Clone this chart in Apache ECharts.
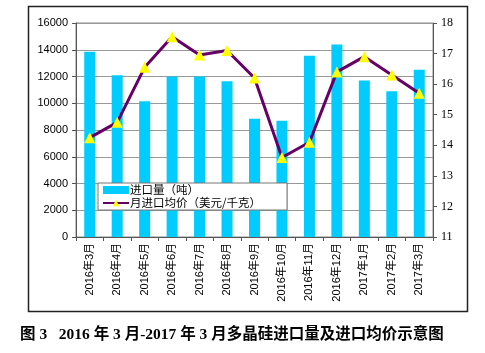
<!DOCTYPE html>
<html><head><meta charset="utf-8">
<script src="https://cdn.jsdelivr.net/npm/echarts@6/dist/echarts.min.js"></script>
<style>html,body{margin:0;padding:0;background:#fff}#c{width:485px;height:353px}</style>
</head><body><div id="c"></div>
<script>
var categories = ['2016年3月','2016年4月','2016年5月','2016年6月','2016年7月','2016年8月','2016年9月','2016年10月','2016年11月','2016年12月','2017年1月','2017年2月','2017年3月'];
var importVolume = [13850, 12100, 10150, 12000, 12000, 11650, 8850, 8700, 13550, 14400, 11700, 10900, 12500];
var avgPrice = [14.25, 14.75, 16.55, 17.55, 16.95, 17.1, 16.2, 13.6, 14.1, 16.4, 16.9, 16.3, 15.7];
var seriesNames = ['进口量（吨）', '月进口均价（美元/千克）'];
var caption = '图 3\u00a0\u00a0 2016 年 3 月-2017 年 3 月多晶硅进口量及进口均价示意图';

var chart = echarts.init(document.getElementById('c'), null, {renderer: 'canvas'});
chart.setOption({
  animation: false,
  backgroundColor: '#fff',
  grid: {left: 76, right: 52, top: 23, bottom: 116, show: true, borderColor: '#888', borderWidth: 1},
  legend: {
    orient: 'vertical', left: 98, top: 183,
    backgroundColor: '#fff', borderColor: '#777', borderWidth: 1,
    padding: [1, 26, 1, 4], itemGap: 1, itemWidth: 26, itemHeight: 8,
    textStyle: {fontSize: 11.5, color: '#000', fontFamily: 'Noto Sans CJK SC', lineHeight: 12, padding: [0,0,0,-4]},
    data: [{name: seriesNames[0], icon: 'rect'}, {name: seriesNames[1]}]
  },
  xAxis: {
    type: 'category', data: categories,
    axisLine: {lineStyle: {color: '#555'}},
    axisTick: {show: true, lineStyle: {color: '#555'}, length: 4},
    axisLabel: {rotate: 90, fontSize: 11, color: '#000', fontFamily: 'Liberation Sans, Noto Sans CJK SC', margin: 6}
  },
  yAxis: [{
    type: 'value', min: 0, max: 16000, interval: 2000,
    axisLine: {show: true, lineStyle: {color: '#555'}},
    axisTick: {show: true, length: 4, lineStyle: {color: '#555'}},
    splitLine: {lineStyle: {color: '#999'}},
    axisLabel: {fontSize: 11, color: '#000', fontFamily: 'Liberation Sans', margin: 8, formatter: function (v) { return String(v); }}
  }, {
    type: 'value', min: 11, max: 18, interval: 1, position: 'right',
    axisLine: {show: true, lineStyle: {color: '#555'}},
    axisTick: {show: true, length: 4, lineStyle: {color: '#555'}},
    splitLine: {show: false},
    axisLabel: {fontSize: 12, color: '#000', fontFamily: 'Liberation Serif', margin: 8}
  }],
  series: [{
    name: seriesNames[0], type: 'bar', data: importVolume, barWidth: 11,
    itemStyle: {color: '#00CCFF'}
  }, {
    name: seriesNames[1], type: 'line', yAxisIndex: 1, data: avgPrice,
    lineStyle: {color: '#660066', width: 3},
    itemStyle: {color: '#FFFF00'},
    symbol: 'triangle', symbolSize: 11, showSymbol: true, z: 5
  }],
  graphic: [{
    type: 'rect', shape: {x: 28.5, y: 6.5, width: 439, height: 305},
    style: {fill: 'none', stroke: '#222', lineWidth: 1.5}, z: -1, silent: true
  }, {
    type: 'text', left: 20, top: 327,
    style: {text: caption, font: 'bold 15.5px "Liberation Serif", "Noto Sans CJK SC"', fill: '#000'}
  }]
});
</script></body></html>
